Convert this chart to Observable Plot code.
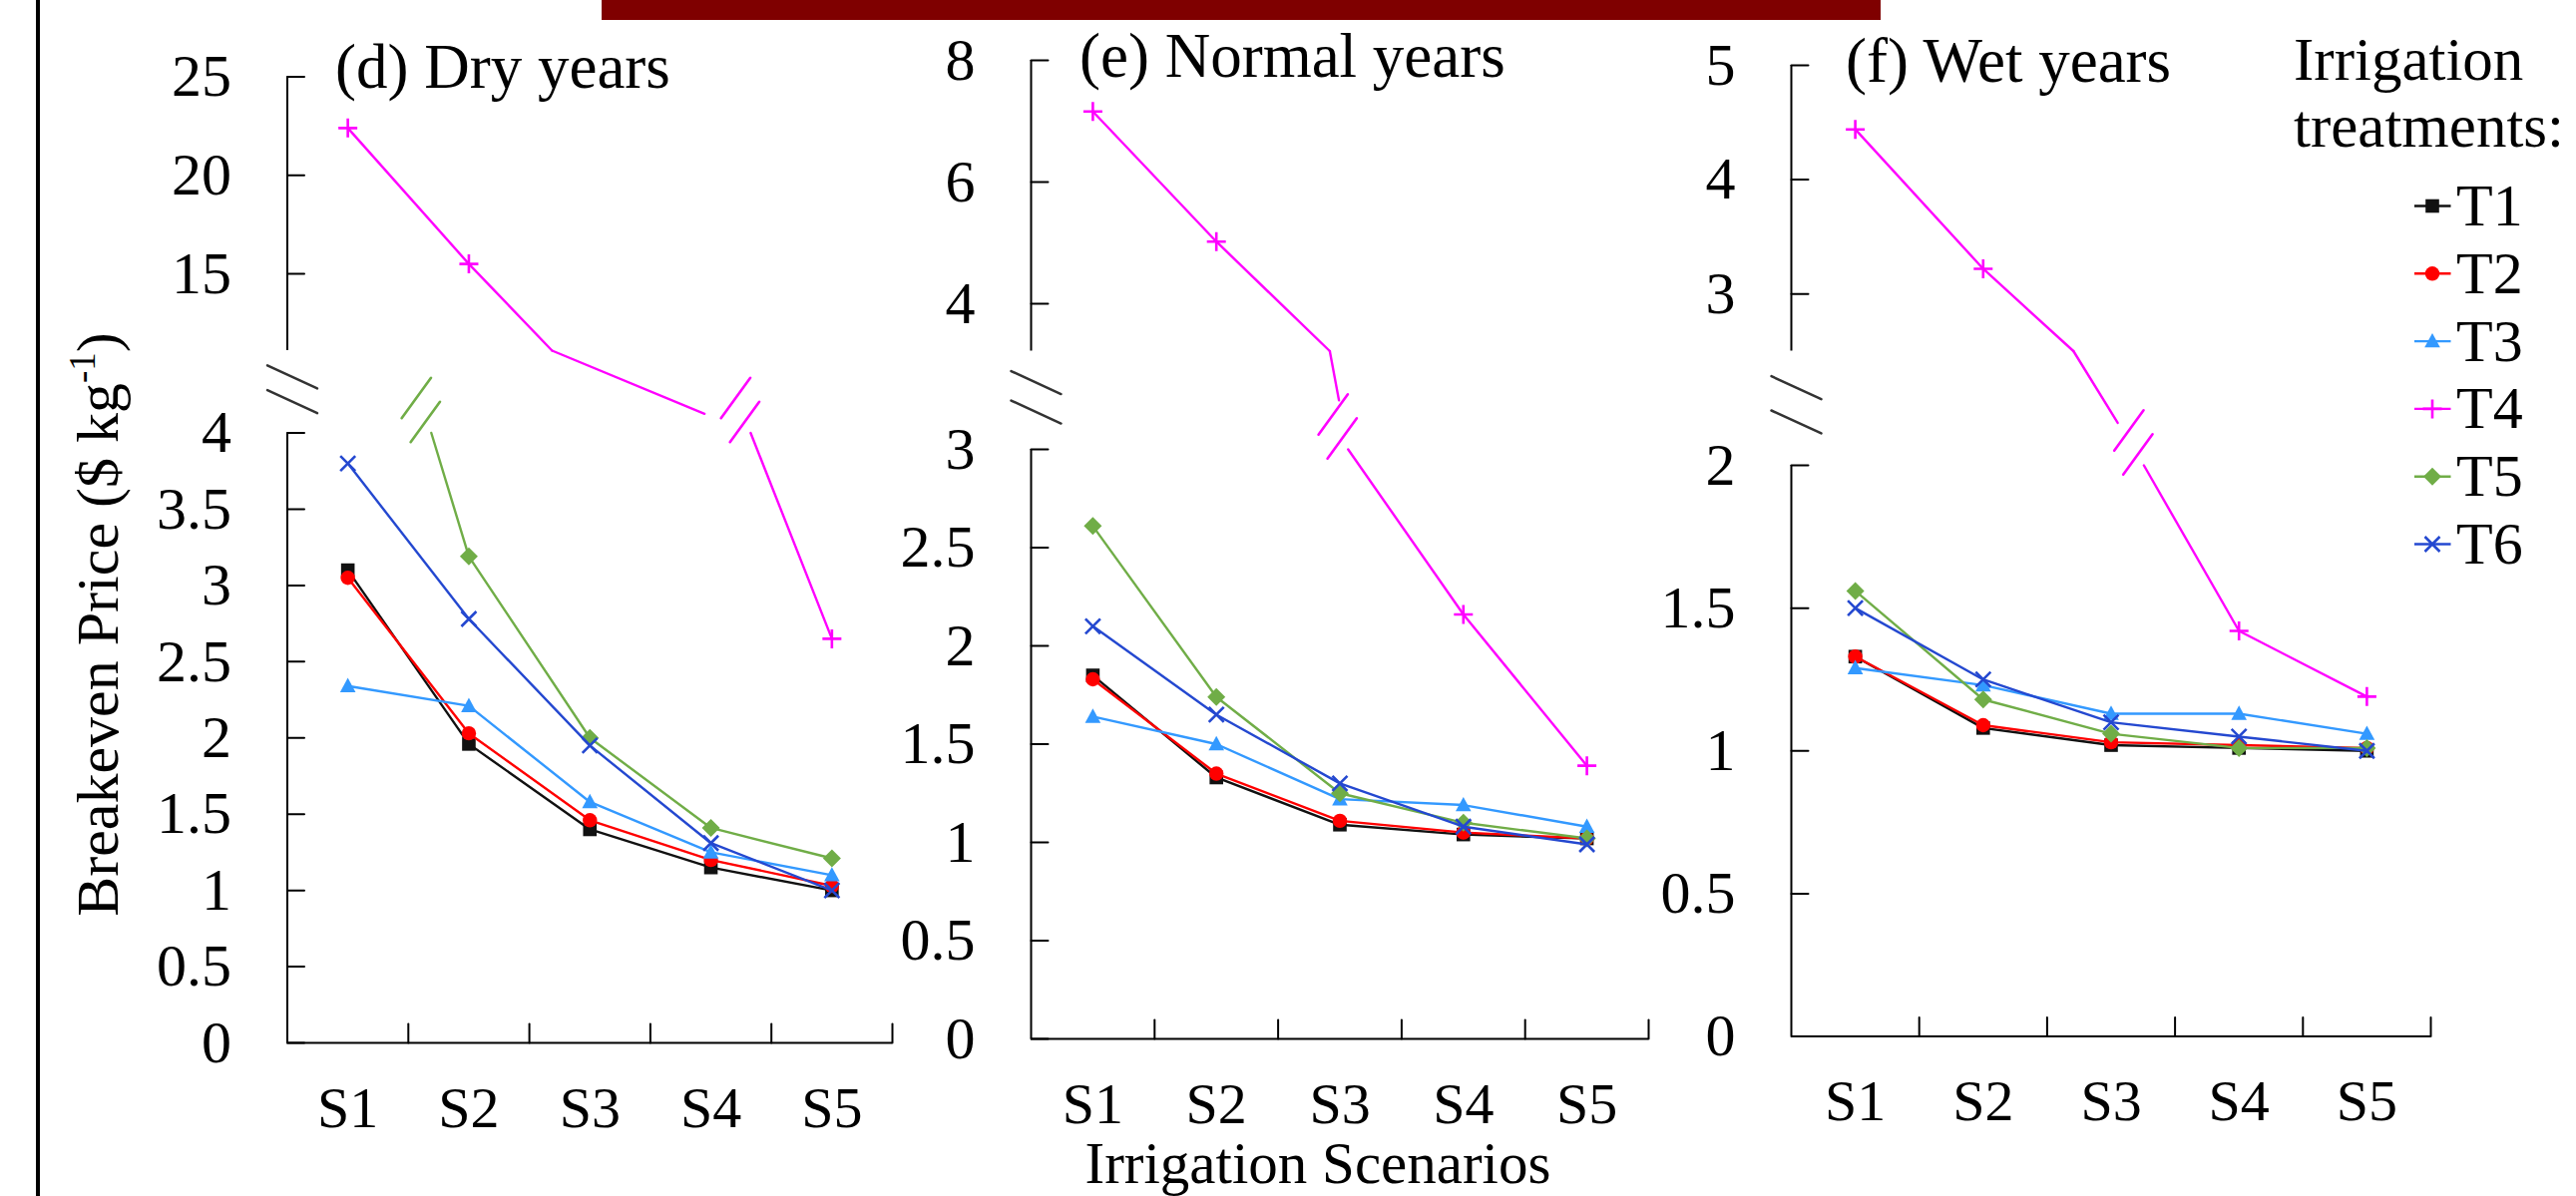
<!DOCTYPE html>
<html>
<head>
<meta charset="utf-8">
<script src="https://cdn.jsdelivr.net/npm/d3@7"></script>
<script src="https://cdn.jsdelivr.net/npm/@observablehq/plot@0.6"></script>
<style>
  html, body { margin: 0; padding: 0; background: #ffffff; }
  #page { position: relative; width: 2582px; height: 1199px; overflow: hidden; background: #ffffff;
          font-family: "Liberation Serif", "Times New Roman", serif; }
  .leftbar { position: absolute; left: 36px; top: 0; width: 4px; height: 1199px; background: #000; }
  .topbar { position: absolute; left: 603px; top: 0; width: 1282px; height: 20px; background: #7f0000; }
</style>
</head>
<body>
<div id="page"><div class="leftbar"></div><div class="topbar"></div></div>
<script>
// ---------------- data ----------------
const scenarioLabels = ["S1", "S2", "S3", "S4", "S5"];
const treatmentNames = ["T1", "T2", "T3", "T4", "T5", "T6"];
const panelTitles = ["(d) Dry years", "(e) Normal years", "(f) Wet years"];
const yAxisTitle = "Breakeven Price ($ kg";
const yAxisTitleSup = "-1";
const xAxisTitle = "Irrigation Scenarios";
const legendTitle = ["Irrigation", "treatments:"];

// Dry years
const dryT1 = [3.10, 1.96, 1.40, 1.15, 1.00];
const dryT2 = [3.05, 2.03, 1.46, 1.20, 1.03];
const dryT3 = [2.34, 2.21, 1.58, 1.25, 1.10];
const dryT4 = [22.4, 15.5, 9.1, 4.66, 2.65];
const dryT5 = [5.8, 3.19, 2.00, 1.41, 1.21];
const dryT6 = [3.80, 2.78, 1.95, 1.31, 1.00];
// Normal years
const normalT1 = [1.85, 1.33, 1.09, 1.04, 1.02];
const normalT2 = [1.83, 1.35, 1.11, 1.05, 1.02];
const normalT3 = [1.64, 1.50, 1.22, 1.19, 1.08];
const normalT4 = [7.16, 5.02, 3.06, 2.16, 1.39];
const normalT5 = [2.61, 1.74, 1.25, 1.10, 1.02];
const normalT6 = [2.10, 1.65, 1.30, 1.08, 0.99];
// Wet years
const wetT1 = [1.33, 1.08, 1.02, 1.01, 1.00];
const wetT2 = [1.33, 1.09, 1.03, 1.02, 1.01];
const wetT3 = [1.29, 1.23, 1.13, 1.13, 1.06];
const wetT4 = [4.44, 3.22, 2.20, 1.42, 1.19];
const wetT5 = [1.56, 1.18, 1.06, 1.01, 1.01];
const wetT6 = [1.50, 1.25, 1.10, 1.05, 1.00];

// tick labels
const dryTicksUpper = [15, 20, 25];
const dryTicksLower = [0, 0.5, 1, 1.5, 2, 2.5, 3, 3.5, 4];
const normalTicksUpper = [4, 6, 8];
const normalTicksLower = [0, 0.5, 1, 1.5, 2, 2.5, 3];
const wetTicksUpper = [3, 4, 5];
const wetTicksLower = [0, 0.5, 1, 1.5, 2];

// broken axis: [0, top of lower part, bottom of upper part, top of upper part]
const dryAxisBreak = [0, 4, 11.1, 25];
const normalAxisBreak = [0, 3, 3.22, 8];
const wetAxisBreak = [0, 2, 2.5, 5];

// ---------------- styles ----------------
const treatmentColors = ["#111111", "#ff0000", "#3399ff", "#ff00ff", "#70ad47", "#2448d0"];
const FONT = "'Liberation Serif', 'Times New Roman', serif";

const rOf = size => Math.sqrt(size / Math.PI);
const symSquare = {draw(c, s) { const r = rOf(s); c.moveTo(-r, -r); c.lineTo(r, -r); c.lineTo(r, r); c.lineTo(-r, r); c.closePath(); }};
const symCircle = {draw(c, s) { const r = rOf(s); c.moveTo(r, 0); c.arc(0, 0, r, 0, 2 * Math.PI); }};
const symTriangle = {draw(c, s) { const r = rOf(s); c.moveTo(0, -r * 1.05); c.lineTo(r, r * 0.8); c.lineTo(-r, r * 0.8); c.closePath(); }};
const symPlus = {draw(c, s) { const r = rOf(s); c.moveTo(-r, 0); c.lineTo(r, 0); c.moveTo(0, -r); c.lineTo(0, r); }};
const symDiamond = {draw(c, s) { const r = rOf(s); c.moveTo(0, -r); c.lineTo(r, 0); c.lineTo(0, r); c.lineTo(-r, 0); c.closePath(); }};
const symTimes = {draw(c, s) { const r = rOf(s); c.moveTo(-r, -r); c.lineTo(r, r); c.moveTo(-r, r); c.lineTo(r, -r); }};
const treatmentSymbols = [symSquare, symCircle, symTriangle, symPlus, symDiamond, symTimes];
const symbolSize = [6.8, 7.2, 7.8, 9.5, 9, 7.5];
const symbolFilled = [true, true, true, false, true, false];
const stick = {draw(c, l) { c.moveTo(0, 0); c.lineTo(0, -l); }};

const layout = {
  dry:    {left: 0,    width: 898, axisX: 287.5, rightX: 894,  yRange: [1045, 433.5, 351, 76.5], titleX: 336,  titleY: 88},
  normal: {left: 898,  width: 760, axisX: 1033,  rightX: 1652, yRange: [1041, 450, 351.5, 60],   titleX: 1082, titleY: 77},
  wet:    {left: 1658, width: 924, axisX: 1795,  rightX: 2436, yRange: [1038.5, 466, 351.5, 65], titleX: 1850, titleY: 82}
};

// split a series into visible pieces on the broken axis
function splitSeries(vals, lowTop, upBot) {
  const zoneOf = v => (v <= lowTop ? 0 : v >= upBot ? 2 : 1);
  const pts = vals.map((v, i) => ({x: i, y: v, zone: zoneOf(v)}));
  const pieces = [], breaks = [], links = [];
  let cur = null, pendingExit = null;
  const start = p => { cur = [p]; pieces.push(cur); };
  const lerp = (a, b, level) => ({x: a.x + (level - a.y) / (b.y - a.y) * (b.x - a.x), y: level});
  pts.forEach((p, i) => {
    if (i === 0) { if (p.zone !== 1) start(p); return; }
    const a = pts[i - 1];
    if (a.zone === p.zone) { if (cur) cur.push(p); return; }
    if (a.zone !== 1) {
      const ex = lerp(a, p, a.zone === 0 ? lowTop : upBot);
      cur.push(ex); cur = null;
      if (a.zone === 0) breaks.push(ex);
      pendingExit = ex;
    }
    if (p.zone !== 1) {
      const en = lerp(a, p, p.zone === 0 ? lowTop : upBot);
      if (p.zone === 0) breaks.push(en);
      if (pendingExit && pendingExit.y !== en.y) links.push([pendingExit, en]);
      pendingExit = null;
      start(en); cur.push(p);
    }
  });
  return {pieces, breaks, links, visible: pts.filter(p => p.zone !== 1)};
}

function makePanel(cfg, series, ticksLower, ticksUpper, axisBreak, title) {
  const H = 1199;
  const [y0, lowTop, upBot, upTop] = axisBreak;
  const marginLeft = cfg.axisX - cfg.left;
  const marginRight = cfg.left + cfg.width - cfg.rightX;
  const marginTop = cfg.yRange[3];
  const marginBottom = H - cfg.yRange[0];
  const xRange = [marginLeft, cfg.width - marginRight];
  const xDomain = [-0.5, 4.5];
  const sx = Plot.scale({x: {type: "linear", domain: xDomain, range: xRange}});
  const sy = Plot.scale({y: {type: "linear", domain: axisBreak, range: cfg.yRange}});
  const axisStyle = {stroke: "#000", strokeWidth: 2};
  const yTicks = ticksLower.concat(ticksUpper);
  const gapAt = f => upBot - f * (upBot - lowTop);

  const marks = [
    Plot.ruleX([-0.5], {y1: y0, y2: lowTop, ...axisStyle}),
    Plot.ruleX([-0.5], {y1: upBot, y2: upTop, ...axisStyle}),
    Plot.ruleY([0], {x1: -0.5, x2: 4.5, ...axisStyle}),
    Plot.vector(yTicks, {x: -0.5, y: d => d, length: 17, rotate: 90, anchor: "start", shape: stick, ...axisStyle}),
    Plot.vector([0.5, 1.5, 2.5, 3.5, 4.5], {x: d => d, y: 0, length: 19, rotate: 0, anchor: "start", shape: stick, ...axisStyle}),
    Plot.vector([0.32, 0.62], {x: -0.5, y: f => gapAt(f), dx: 5, length: 55, rotate: 114.7, anchor: "middle", shape: stick, stroke: "#333", strokeWidth: 2.5}),
    Plot.axisY(yTicks, {anchor: "left", tickSize: 0, tickPadding: 56, tickFormat: d => String(d), label: null, fontSize: 60}),
    Plot.axisX([0, 1, 2, 3, 4], {anchor: "bottom", tickSize: 0, tickPadding: 43, tickFormat: i => scenarioLabels[i], label: null, fontSize: 58})
  ];

  series.forEach((vals, k) => {
    const color = treatmentColors[k];
    const s = splitSeries(vals, lowTop, upBot);
    const rows = [];
    s.pieces.forEach((pc, j) => pc.forEach(p => rows.push({x: p.x, y: p.y, z: "p" + j})));
    s.links.forEach(([A, B], j) => {
      const L = A.y === lowTop ? A : B;
      const U = L === A ? B : A;
      const ux = sx.apply(U.x), uy = sy.apply(U.y), lx = sx.apply(L.x), ly = sy.apply(L.y);
      const len = Math.hypot(lx - ux, ly - uy);
      const t = Math.max(0, 1 - 50 / len);
      const E = {x: U.x + t * (L.x - U.x), y: U.y + t * (L.y - U.y)};
      rows.push({x: U.x, y: U.y, z: "l" + j}, {x: E.x, y: E.y, z: "l" + j});
    });
    marks.push(Plot.line(rows, {x: "x", y: "y", z: "z", stroke: color, strokeWidth: 2.4}));
    if (s.breaks.length) {
      marks.push(Plot.vector(s.breaks, {x: "x", y: "y", dx: -6, dy: -11, length: 50, rotate: 36, anchor: "middle", shape: stick, stroke: color, strokeWidth: 2.6}));
      marks.push(Plot.vector(s.breaks, {x: "x", y: "y", dx: -15, dy: -35, length: 50, rotate: 36, anchor: "middle", shape: stick, stroke: color, strokeWidth: 2.6}));
    }
    marks.push(Plot.dot(s.visible, {
      x: "x", y: "y", symbol: treatmentSymbols[k], r: symbolSize[k],
      fill: symbolFilled[k] ? color : "none",
      stroke: symbolFilled[k] ? "none" : color,
      strokeWidth: symbolFilled[k] ? 0 : 2.6
    }));
  });

  const svg = Plot.plot({
    width: cfg.width, height: H,
    marginLeft, marginRight, marginTop, marginBottom,
    x: {type: "linear", domain: xDomain, range: xRange},
    y: {type: "linear", domain: axisBreak, range: cfg.yRange},
    style: {fontFamily: FONT, fontSize: "60px", background: "transparent", overflow: "visible",
            position: "absolute", top: "0px", left: cfg.left + "px", maxWidth: "none", color: "#000"},
    marks
  });
  d3.select(svg).append("text")
    .attr("x", cfg.titleX - cfg.left).attr("y", cfg.titleY)
    .attr("text-anchor", "start")
    .attr("font-size", 63).attr("fill", "#000").text(title);
  document.getElementById("page").appendChild(svg);
  return svg;
}

const drySvg = makePanel(layout.dry, [dryT1, dryT2, dryT3, dryT4, dryT5, dryT6], dryTicksLower, dryTicksUpper, dryAxisBreak, panelTitles[0]);
const normalSvg = makePanel(layout.normal, [normalT1, normalT2, normalT3, normalT4, normalT5, normalT6], normalTicksLower, normalTicksUpper, normalAxisBreak, panelTitles[1]);
const wetSvg = makePanel(layout.wet, [wetT1, wetT2, wetT3, wetT4, wetT5, wetT6], wetTicksLower, wetTicksUpper, wetAxisBreak, panelTitles[2]);

// y-axis title
const yt = d3.select(drySvg).append("text")
  .attr("transform", "translate(118,626) rotate(-90)")
  .attr("text-anchor", "middle").attr("font-size", 60).attr("fill", "#000");
yt.append("tspan").text(yAxisTitle);
yt.append("tspan").attr("font-size", 37).attr("dy", -23).text(yAxisTitleSup);
yt.append("tspan").attr("dy", 23).text(")");

// x-axis title
d3.select(normalSvg).append("text")
  .attr("x", 1321 - layout.normal.left).attr("y", 1185.8)
  .attr("text-anchor", "middle").attr("font-size", 59).attr("fill", "#000").text(xAxisTitle);

// legend
const lg = d3.select(wetSvg).append("g").attr("transform", `translate(${-layout.wet.left},0)`)
  .attr("text-anchor", "start");
lg.append("text").attr("x", 2299).attr("y", 80).attr("font-size", 61).attr("fill", "#000").text(legendTitle[0]);
lg.append("text").attr("x", 2299).attr("y", 147).attr("font-size", 61).attr("fill", "#000").text(legendTitle[1]);
treatmentNames.forEach((name, k) => {
  const cy = 206.5 + k * 67.8;
  const color = treatmentColors[k];
  lg.append("line").attr("x1", 2420).attr("x2", 2456.5).attr("y1", cy).attr("y2", cy)
    .attr("stroke", color).attr("stroke-width", 2.4);
  lg.append("path").attr("transform", `translate(2438,${cy})`)
    .attr("d", d3.symbol().type(treatmentSymbols[k]).size(Math.PI * symbolSize[k] * symbolSize[k])())
    .attr("fill", symbolFilled[k] ? color : "none")
    .attr("stroke", symbolFilled[k] ? "none" : color).attr("stroke-width", 2.6);
  lg.append("text").attr("x", 2462).attr("y", cy + 19.5).attr("font-size", 60).attr("fill", "#000").text(name);
});
</script>
</body>
</html>
